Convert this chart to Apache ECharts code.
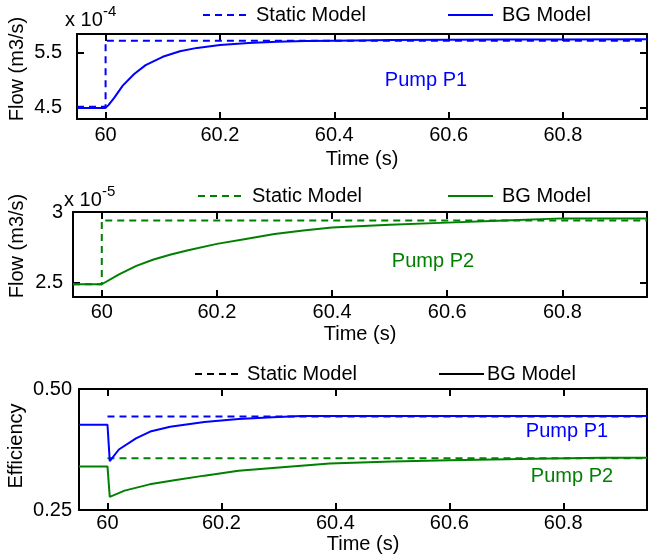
<!DOCTYPE html>
<html>
<head>
<meta charset="utf-8">
<script src="https://cdn.jsdelivr.net/npm/echarts@6/dist/echarts.min.js"></script>
<style>html,body{margin:0;padding:0;background:#fff}#c{width:649px;height:560px}</style>
</head>
<body>
<div id="c"></div>
<script>
// ---- Data ----
const xTicks = [60, 60.2, 60.4, 60.6, 60.8];

// Panel 1: Pump P1 flow (x 1e-4 m3/s)
const p1Ticks = [4.5, 5.5];
const p1StaticTime = [59.95, 60.0, 60.0, 60.947];
const p1StaticFlow = [4.52, 4.52, 5.71, 5.71];
const p1BgTime = [59.95, 60.0, 60.005, 60.015, 60.03, 60.05, 60.07, 60.1, 60.13, 60.16, 60.2, 60.25, 60.3, 60.35, 60.4, 60.5, 60.6, 60.7, 60.8, 60.947];
const p1BgFlow = [4.50, 4.50, 4.55, 4.68, 4.90, 5.11, 5.27, 5.42, 5.52, 5.58, 5.63, 5.67, 5.69, 5.705, 5.71, 5.72, 5.725, 5.73, 5.73, 5.735];

// Panel 2: Pump P2 flow (x 1e-5 m3/s)
const p2Ticks = [2.5, 3];
const p2StaticTime = [59.95, 60.0, 60.0, 60.947];
const p2StaticFlow = [2.49, 2.49, 2.94, 2.94];
const p2BgTime = [59.95, 60.0, 60.03, 60.06, 60.09, 60.12, 60.15, 60.2, 60.25, 60.3, 60.35, 60.4, 60.5, 60.6, 60.7, 60.8, 60.947];
const p2BgFlow = [2.49, 2.49, 2.56, 2.62, 2.665, 2.70, 2.73, 2.775, 2.81, 2.845, 2.87, 2.89, 2.91, 2.925, 2.94, 2.955, 2.955];

// Panel 3: efficiency
const effTicks = [0.25, 0.5];
const e1StaticTime = [60.0, 60.947];
const e1StaticEff = [0.443, 0.443];
const e1BgTime = [59.95, 60.0, 60.004, 60.02, 60.05, 60.075, 60.11, 60.17, 60.23, 60.29, 60.34, 60.5, 60.7, 60.947];
const e1BgEff = [0.426, 0.426, 0.351, 0.375, 0.398, 0.412, 0.422, 0.432, 0.438, 0.4415, 0.444, 0.444, 0.444, 0.444];
const e2StaticTime = [60.0, 60.947];
const e2StaticEff = [0.357, 0.357];
const e2BgTime = [59.95, 60.0, 60.004, 60.03, 60.074, 60.12, 60.17, 60.23, 60.29, 60.39, 60.5, 60.6, 60.75, 60.87, 60.947];
const e2BgEff = [0.340, 0.340, 0.277, 0.290, 0.303, 0.312, 0.321, 0.331, 0.337, 0.346, 0.350, 0.353, 0.356, 0.358, 0.358];

// ---- Styles ----
const FONT = 'Liberation Sans, Arial, Helvetica, sans-serif';
const FS = 20;
const BLUE = '#0000ff';
const GREEN = '#008000';
const DASH = [7, 5];
const zip = (xs, ys) => xs.map((x, i) => [x, ys[i]]);

const grids = [
  { left: 77, top: 34, right: 2, height: 85 },
  { left: 73, top: 212, right: 2, height: 85 },
  { left: 79, top: 389, right: 2, height: 121 }
];
const yRanges = [[4.3, 5.83], [2.4, 3.0], [0.25, 0.5]];
const yTickSets = [p1Ticks, p2Ticks, effTicks];
const yFmt = [v => v.toFixed(1), v => (v === 3 ? '3' : v.toFixed(1)), v => v.toFixed(2)];
const yMargins = [15, 10, 7];
const xLabelMargins = [6, 5, 3];
const xNameGaps = [30, 27, 24];

const xAxes = [], yAxes = [];
grids.forEach((g, i) => {
  xAxes.push({
    type: 'value', gridIndex: i, min: 59.95, max: 60.947, position: 'bottom',
    name: 'Time (s)', nameLocation: 'middle', nameGap: xNameGaps[i],
    nameTextStyle: { fontFamily: FONT, fontSize: FS, color: '#000' },
    axisLine: { show: true, onZero: false, lineStyle: { color: '#000', width: 2 } },
    axisTick: { show: true, inside: true, length: 7, customValues: xTicks, lineStyle: { color: '#000', width: 2 } },
    axisLabel: { show: true, customValues: xTicks, margin: xLabelMargins[i], fontFamily: FONT, fontSize: FS, color: '#000',
      formatter: v => (Math.abs(v - 60) < 1e-9 ? '60' : v.toFixed(1)) },
    splitLine: { show: false }
  });
  xAxes.push({
    type: 'value', gridIndex: i, min: 59.95, max: 60.947, position: 'top',
    axisLine: { show: true, onZero: false, lineStyle: { color: '#000', width: 2 } },
    axisTick: { show: true, inside: true, length: 7, customValues: xTicks, lineStyle: { color: '#000', width: 2 } },
    axisLabel: { show: false }, splitLine: { show: false }
  });
  yAxes.push({
    type: 'value', gridIndex: i, min: yRanges[i][0], max: yRanges[i][1], position: 'left',
    axisLine: { show: true, onZero: false, lineStyle: { color: '#000', width: 2 } },
    axisTick: { show: true, inside: true, length: 7, customValues: yTickSets[i], lineStyle: { color: '#000', width: 2 } },
    axisLabel: { show: true, customValues: yTickSets[i], margin: yMargins[i], fontFamily: FONT, fontSize: FS, color: '#000', formatter: yFmt[i] },
    splitLine: { show: false }
  });
  yAxes.push({
    type: 'value', gridIndex: i, min: yRanges[i][0], max: yRanges[i][1], position: 'right',
    axisLine: { show: true, onZero: false, lineStyle: { color: '#000', width: 2 } },
    axisTick: { show: true, inside: true, length: 7, customValues: yTickSets[i], lineStyle: { color: '#000', width: 2 } },
    axisLabel: { show: false }, splitLine: { show: false }
  });
});

function line(name, xi, yi, data, color, dashed) {
  return {
    type: 'line', name, xAxisIndex: xi, yAxisIndex: yi, data, showSymbol: false, symbol: 'none',
    animation: false, silent: true,
    lineStyle: { color, width: 2, type: dashed ? DASH : 'solid' }
  };
}

const series = [
  line('Static Model', 0, 0, zip(p1StaticTime, p1StaticFlow), BLUE, true),
  line('BG Model', 0, 0, zip(p1BgTime, p1BgFlow), BLUE, false),
  line('Static Model', 2, 2, zip(p2StaticTime, p2StaticFlow), GREEN, true),
  line('BG Model', 2, 2, zip(p2BgTime, p2BgFlow), GREEN, false),
  line('Static Model', 4, 4, zip(e1StaticTime, e1StaticEff), BLUE, true),
  line('Static Model', 4, 4, zip(e2StaticTime, e2StaticEff), GREEN, true),
  line('BG Model', 4, 4, zip(e1BgTime, e1BgEff), BLUE, false),
  line('BG Model', 4, 4, zip(e2BgTime, e2BgEff), GREEN, false)
];

function txt(x, y, text, opts) {
  return { type: 'text', x, y, style: Object.assign({ text, fill: '#000', font: FS + 'px ' + FONT, align: 'left', verticalAlign: 'middle' }, opts || {}) };
}
function seg(x1, x2, y, color, dashed) {
  return { type: 'line', shape: { x1, y1: y, x2, y2: y }, style: { stroke: color, lineWidth: 2, lineDash: dashed ? DASH : null } };
}
function legend(y, color, sx1, sx2, stx, bx1, bx2, btx) {
  return [
    seg(sx1, sx2, y, color, true), txt(stx, y, 'Static Model'),
    seg(bx1, bx2, y, color, false), txt(btx, y, 'BG Model')
  ];
}
function rot(x, y, text) {
  return { type: 'text', x, y, rotation: Math.PI / 2,
    style: { text, fill: '#000', font: '20px ' + FONT, align: 'center', verticalAlign: 'middle' } };
}

const graphic = [].concat(
  legend(15, BLUE, 203, 248, 256, 448, 493, 502),
  legend(196, GREEN, 198, 243, 252, 448, 493, 502),
  legend(374, '#000', 195, 242, 247, 439, 484, 487),
  [
    txt(65, 20, 'x 10'), txt(103, 12, '-4', { font: '15px ' + FONT }),
    txt(64, 200, 'x 10'), txt(102, 192, '-5', { font: '15px ' + FONT }),
    rot(17, 69, 'Flow (m3/s)'),
    rot(17, 246, 'Flow (m3/s)'),
    rot(16, 446, 'Efficiency'),
    txt(426, 80, 'Pump P1', { fill: BLUE, font: '20px ' + FONT, align: 'center' }),
    txt(433, 261, 'Pump P2', { fill: GREEN, font: '20px ' + FONT, align: 'center' }),
    txt(567, 431, 'Pump P1', { fill: BLUE, font: '20px ' + FONT, align: 'center' }),
    txt(572, 476, 'Pump P2', { fill: GREEN, font: '20px ' + FONT, align: 'center' })
  ]
);

const chart = echarts.init(document.getElementById('c'), null, { renderer: 'canvas' });
chart.setOption({
  animation: false,
  backgroundColor: '#fff',
  textStyle: { fontFamily: FONT },
  grid: grids,
  xAxis: xAxes,
  yAxis: yAxes,
  series,
  graphic
});
</script>
</body>
</html>
